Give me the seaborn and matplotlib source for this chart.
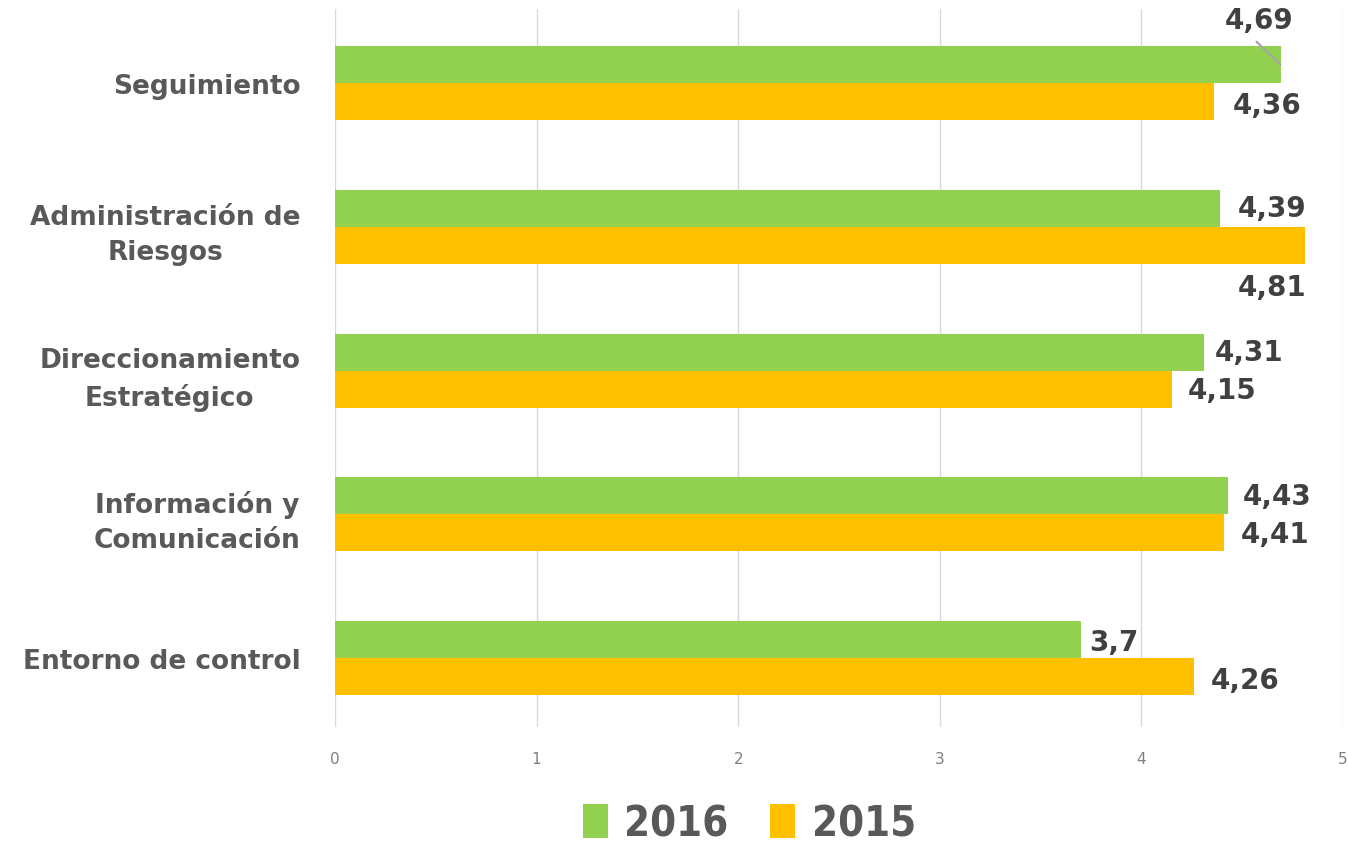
import pandas as pd
import matplotlib.pyplot as plt
import seaborn as sns

# Datos
categorias = ["Seguimiento", "Administración de\nRiesgos", "Direccionamiento\nEstratégico",
              "Información y\nComunicación", "Entorno de control"]
valores_2016 = [4.69, 4.39, 4.31, 4.43, 3.7]
valores_2015 = [4.36, 4.81, 4.15, 4.41, 4.26]
etiquetas_2016 = ["4,69", "4,39", "4,31", "4,43", "3,7"]
etiquetas_2015 = ["4,36", "4,81", "4,15", "4,41", "4,26"]
anios = ["2016", "2015"]
colores = {"2016": "#92D050", "2015": "#FFC000"}

df = pd.DataFrame({
    "categoria": categorias * 2,
    "valor": valores_2016 + valores_2015,
    "anio": ["2016"] * 5 + ["2015"] * 5,
})

sns.set_style("white")
fig = plt.figure(figsize=(13.48, 8.53), dpi=100)
ax = fig.add_axes([0.2485, 0.1465, 0.7478, 0.8415])

sns.barplot(data=df, y="categoria", x="valor", hue="anio", hue_order=anios,
            palette=colores, orient="h", width=0.515, ax=ax, legend=True,
            saturation=1, edgecolor="none", order=categorias)

ax.set_xlim(0, 5)
ax.set_ylim(4.48, -0.515)
ax.set_xticks([0, 1, 2, 3, 4, 5])
ax.grid(axis="x", color="#d9d9d9", linewidth=1)
ax.set_axisbelow(True)
for s in ax.spines.values():
    s.set_visible(False)
ax.set_xlabel("")
ax.set_ylabel("")
ax.tick_params(axis="x", length=0, pad=17, labelsize=11, labelcolor="#7f7f7f")
ax.tick_params(axis="y", length=0, pad=25)
for lbl in ax.get_yticklabels():
    lbl.set_fontsize(19)
    lbl.set_fontweight("bold")
    lbl.set_color("#595959")
    lbl.set_multialignment("center")
    lbl.set_linespacing(1.45)

# Etiquetas de datos (desplazamientos en pixeles como en el original)
off_2016 = [(-21, 45), (52, 0), (45, 0), (49, 0), (33, -2)]
off_2015 = [(53, -3), (-33, -42), (50, -1), (51, -1), (51, -3)]
bh = 0.515 / 2
for i in range(5):
    y16 = i - bh / 2
    y15 = i + bh / 2
    dx, dy = off_2016[i]
    ax.annotate(etiquetas_2016[i], xy=(valores_2016[i], y16), xytext=(dx, dy),
                textcoords="offset pixels", ha="center", va="center",
                fontsize=20, fontweight="bold", color="#404040",
                annotation_clip=False)
    dx, dy = off_2015[i]
    ax.annotate(etiquetas_2015[i], xy=(valores_2015[i], y15), xytext=(dx, dy),
                textcoords="offset pixels", ha="center", va="center",
                fontsize=20, fontweight="bold", color="#404040",
                annotation_clip=False)

# linea guia de la etiqueta 4,69
ax.annotate("", xy=(valores_2016[0], -bh / 2), xytext=(-24, 23),
            textcoords="offset pixels", annotation_clip=False,
            arrowprops=dict(arrowstyle="-", color="#a6a6a6", lw=1.6,
                            shrinkA=0, shrinkB=0))

handles, labels = ax.get_legend_handles_labels()
ax.get_legend().remove()
fig.legend(handles, labels, loc="lower center", bbox_to_anchor=(0.556, -0.035),
           ncol=2, frameon=False, prop={"size": 30, "weight": "bold", "stretch": "condensed"},
           labelcolor="#595959", handlelength=0.6, handleheight=0.9,
           handletextpad=0.4, columnspacing=1.0)

plt.savefig("out.png", dpi=100)
